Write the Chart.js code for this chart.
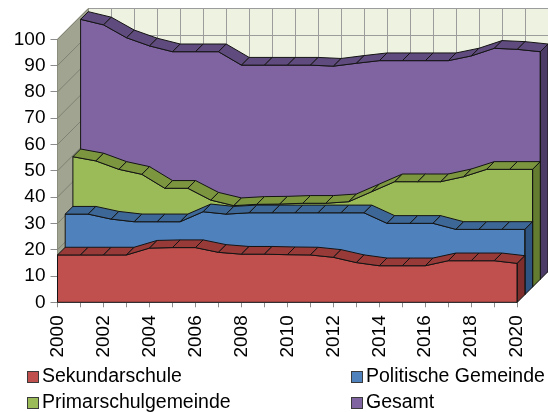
<!DOCTYPE html>
<html>
<head>
<meta charset="utf-8">
<script src="https://cdn.jsdelivr.net/npm/chart.js@4.4.1/dist/chart.umd.min.js"></script>
<style>
html,body{margin:0;padding:0;background:#ffffff;}
#wrap{width:548px;height:412px;position:relative;overflow:hidden;}
canvas{display:block;}
</style>
</head>
<body>
<div id="wrap"><canvas id="c" width="548" height="412"></canvas></div>
<script>
// ---- data ----
const years = ['2000','2001','2002','2003','2004','2005','2006','2007','2008','2009','2010',
               '2011','2012','2013','2014','2015','2016','2017','2018','2019','2020'];
const sekundarschule      = [18.0,18.0,18.0,18.0,20.6,20.8,20.8,19.0,18.3,18.3,18.1,18.0,17.1,15.1,13.9,13.9,13.9,15.8,15.8,15.8,14.8];
const politischeGemeinde  = [30.6,30.6,28.7,27.7,27.7,27.7,31.5,30.6,31.1,31.1,31.1,31.1,31.1,31.1,27.1,27.1,27.1,24.8,24.8,24.8,24.8];
const primarschulgemeinde = [49.5,47.9,44.7,42.8,37.5,37.5,33.0,30.9,31.4,31.5,31.8,31.8,32.4,36.2,40.0,40.0,40.0,41.9,44.7,44.7,44.7];
const gesamt              = [98.8,96.7,91.8,88.7,86.5,86.5,86.5,81.4,81.4,81.4,81.4,81.0,82.1,83.1,83.1,83.1,83.1,84.9,87.8,87.4,86.5];
const seriesNames = ['Sekundarschule','Politische Gemeinde','Primarschulgemeinde','Gesamt'];
const yMin = 0, yMax = 100, yStep = 10;

// ---- styling ----
const faceColors = ['#C0504D','#4F81BD','#9BBB59','#8064A2'];
const bandColors = ['#983B38','#3D6796','#7B963F','#604B7E'];
const sideColors = ['#7E2E2C','#2E5482','#637C30','#4C3B66'];
const DEPTH = 7.7;       // px offset of one series row in depth
const ROWS = 4;
const FONT = '"Liberation Sans", Arial, sans-serif';

function poly(ctx, pts){
  ctx.beginPath();
  ctx.moveTo(pts[0][0], pts[0][1]);
  for (let i = 1; i < pts.length; i++) ctx.lineTo(pts[i][0], pts[i][1]);
  ctx.closePath();
}

function drawWalls(chart){
  const ctx = chart.ctx, xs = chart.scales.x, ys = chart.scales.y;
  const n = years.length;
  const xL = xs.getPixelForValue(0), xR = xs.getPixelForValue(n-1);
  const yB = ys.getPixelForValue(yMin), yT = ys.getPixelForValue(yMax);
  const B = ROWS*DEPTH;
  ctx.save();
  ctx.lineWidth = 1;
  // floor
  ctx.fillStyle = '#ffffff'; ctx.strokeStyle = '#a0a0a0';
  poly(ctx, [[xL,yB],[xR,yB],[xR+B,yB-B],[xL+B,yB-B]]); ctx.fill(); ctx.stroke();
  // back wall
  ctx.fillStyle = '#EEF3E1';
  ctx.fillRect(xL+B, yT-B, xR-xL, yB-yT);
  ctx.strokeStyle = '#9c9c9c';
  ctx.beginPath();
  for (let v = yMin; v <= yMax; v += yStep){
    const y = Math.round(ys.getPixelForValue(v)-B)+0.5;
    ctx.moveTo(xL+B, y); ctx.lineTo(xR+B, y);
  }
  for (let i = 0; i < n; i++){
    const x = Math.round(xs.getPixelForValue(i)+B)+0.5;
    ctx.moveTo(x, yT-B); ctx.lineTo(x, yB-B);
  }
  ctx.stroke();
  // left wall
  ctx.fillStyle = '#A1A490'; ctx.strokeStyle = '#8a8c7c';
  poly(ctx, [[xL,yB],[xL,yT],[xL+B,yT-B],[xL+B,yB-B]]); ctx.fill(); ctx.stroke();
  ctx.strokeStyle = '#7f8173';
  ctx.beginPath();
  for (let v = yMin; v <= yMax; v += yStep){
    const y = ys.getPixelForValue(v);
    ctx.moveTo(xL, y); ctx.lineTo(xL+B, y-B);
  }
  ctx.stroke();
  ctx.restore();
}

function drawRowExtras(chart, k){
  const ctx = chart.ctx;
  const meta = chart.getDatasetMeta(k);
  const pts = meta.data;
  const y0 = chart.scales.y.getPixelForValue(0);
  const D = DEPTH;
  ctx.save();
  ctx.lineWidth = 1; ctx.strokeStyle = '#141414'; ctx.lineJoin = 'round';
  // top bands
  ctx.fillStyle = bandColors[k];
  for (let i = 0; i < pts.length-1; i++){
    const a = pts[i], b = pts[i+1];
    const cross = (b.x-a.x)*(-D) - (b.y-a.y)*D;
    if (cross > 0) continue; // back facing
    poly(ctx, [[a.x,a.y],[b.x,b.y],[b.x+D,b.y-D],[a.x+D,a.y-D]]);
    ctx.fill(); ctx.stroke();
  }
  // right side face
  const l = pts[pts.length-1], f = pts[0];
  ctx.fillStyle = sideColors[k];
  poly(ctx, [[l.x,l.y],[l.x+D,l.y-D],[l.x+D,y0-D],[l.x,y0]]);
  ctx.fill(); ctx.stroke();
  // front face edges
  ctx.beginPath();
  ctx.moveTo(f.x, f.y); ctx.lineTo(f.x, y0); ctx.lineTo(l.x, y0); ctx.lineTo(l.x, l.y);
  ctx.stroke();
  ctx.restore();
}

const depthPlugin = {
  id: 'depth3d',
  beforeDatasetsDraw(chart){
    drawWalls(chart);
    const last = chart.data.datasets.length-1;
    chart.ctx.save();
    chart.ctx.translate(last*DEPTH, -last*DEPTH);
  },
  afterDatasetDraw(chart, args){
    const k = args.index;
    drawRowExtras(chart, k);
    chart.ctx.restore();
    if (k > 0){
      chart.ctx.save();
      chart.ctx.translate((k-1)*DEPTH, -(k-1)*DEPTH);
    }
  }
};

const legendPlugin = {
  id: 'gridLegend',
  afterDraw(chart){
    const ctx = chart.ctx;
    const cols = [27, 351], rows = [377, 403];
    ctx.save();
    ctx.font = '19.5px ' + FONT;
    ctx.textBaseline = 'middle';
    chart.data.datasets.forEach((ds, i) => {
      const x = cols[i % 2], y = rows[Math.floor(i/2)];
      ctx.fillStyle = ds.backgroundColor;
      ctx.fillRect(x, y-6, 12, 12);
      ctx.strokeStyle = '#3a3a3a'; ctx.lineWidth = 1;
      ctx.strokeRect(x+0.5, y-5.5, 11, 11);
      ctx.fillStyle = '#000';
      ctx.fillText(ds.label, x+15, y);
    });
    ctx.restore();
  }
};

Chart.defaults.font.family = FONT;
Chart.defaults.font.size = 19;
Chart.defaults.color = '#000';

const seriesData = [sekundarschule, politischeGemeinde, primarschulgemeinde, gesamt];
const datasets = seriesData.map((d, k) => ({
  label: seriesNames[k],
  data: d,
  backgroundColor: faceColors[k],
  borderColor: '#141414',
  borderWidth: 1,
  fill: 'origin',
  pointRadius: 0,
  tension: 0,
  clip: false
}));

new Chart(document.getElementById('c'), {
  type: 'line',
  data: { labels: years, datasets },
  options: {
    responsive: false,
    animation: false,
    devicePixelRatio: 1,
    events: [],
    layout: { padding: { left: 0, right: 29.5, top: 39.3, bottom: 49.7 } },
    plugins: { legend: { display: false }, tooltip: { enabled: false } },
    scales: {
      x: {
        type: 'category',
        offset: false,
        grid: { display: true, drawOnChartArea: false, drawTicks: true, tickLength: 5, color: '#8c8c8c' },
        border: { display: true, color: '#8c8c8c' },
        ticks: {
          autoSkip: false, maxRotation: 90, minRotation: 90, padding: 8,
          font: { size: 19 },
          callback: function(value, index){ return index % 2 === 0 ? this.getLabelForValue(value) : ''; }
        },
        afterFit: s => { s.height = 60; }
      },
      y: {
        min: yMin, max: yMax,
        grid: { display: true, drawOnChartArea: false, drawTicks: true, tickLength: 7, color: '#8c8c8c' },
        border: { display: true, color: '#8c8c8c' },
        ticks: { stepSize: yStep, padding: 5, autoSkip: false, font: { size: 19 } },
        afterFit: s => { s.width = 57.5; }
      }
    }
  },
  plugins: [depthPlugin, legendPlugin]
});
</script>
</body>
</html>
